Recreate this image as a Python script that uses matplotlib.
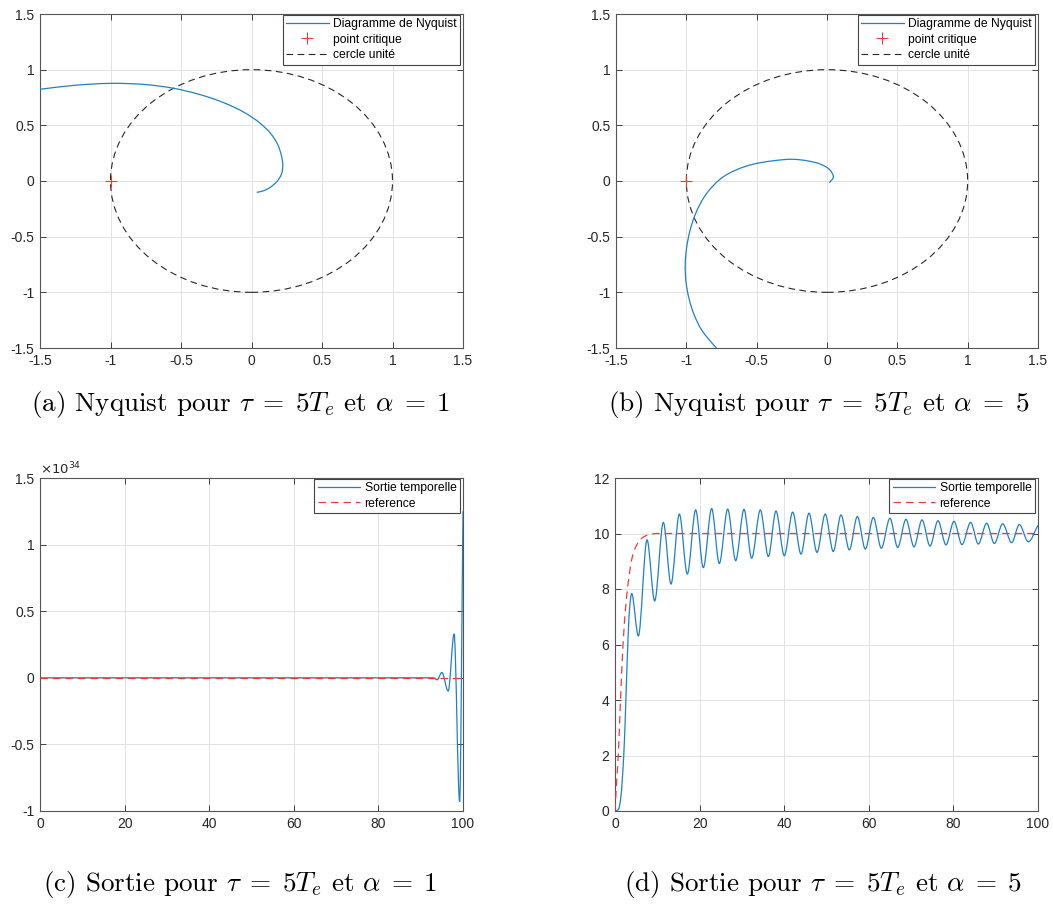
import numpy as np
import matplotlib
matplotlib.use("Agg")
import matplotlib.pyplot as plt
from matplotlib.path import Path
from matplotlib.patches import PathPatch, Circle
from matplotlib.lines import Line2D
from matplotlib.ticker import FuncFormatter, MultipleLocator

plt.rcParams['font.family'] = ['Liberation Sans', 'DejaVu Sans']
plt.rcParams['axes.unicode_minus'] = False

# --- data ------------------------------------------------------------------
# (a) Nyquist, alpha = 1
nyq_a_re = [-1.5, -1.25, -1.0, -0.75, -0.554, -0.365, -0.2, -0.05, 0.06,
            0.14, 0.185, 0.212, 0.222, 0.212, 0.18, 0.135, 0.085, 0.037]
nyq_a_im = [0.824, 0.860, 0.877, 0.866, 0.833, 0.776, 0.705, 0.615, 0.52,
            0.42, 0.33, 0.23, 0.14, 0.06, -0.005, -0.055, -0.088, -0.102]

# (b) Nyquist, alpha = 5
nyq_b_re = [0.017, 0.045, 0.021, -0.05, -0.144, -0.239, -0.381, -0.57, -0.736,
            -0.855, -0.938, -0.975, -0.998, -1.008, -1.003, -0.982, -0.945,
            -0.89, -0.835, -0.784]
nyq_b_im = [-0.015, 0.033, 0.099, 0.153, 0.182, 0.195, 0.182, 0.135, 0.039,
            -0.111, -0.305, -0.45, -0.6, -0.75, -0.9, -1.05, -1.2,
            -1.34, -1.43, -1.503]

point_critique = (-1.0, 0.0)
cercle_rayon = 1.0

# (c) time output, alpha = 1 (units of 1e34)
t_c = [0, 93.0, 93.9, 95.0, 96.5, 97.9, 99.2, 100]
y_c = [0, 0, -0.015, 0.04, -0.1, 0.33, -0.93, 1.25]
t_ref_c = [0, 100]
y_ref_c = [0, 0]

# (d) time output, alpha = 5
t_d = [0, 0.8, 1.3, 1.8, 2.3, 2.7, 3.1, 3.5, 3.94,
       5.52, 7.57, 9.38, 11.43, 13.24, 15.21, 17.10, 19.07, 20.88, 22.85,
       24.66, 26.64, 28.53, 30.5, 32.31, 34.36, 36.25, 38.06, 40.03, 42.0,
       43.97, 45.86, 47.75, 49.7,
       51.6, 53.43, 55.4, 57.29, 59.18, 61.07, 62.96, 65.0, 66.83, 68.79,
       70.69, 72.58, 74.47, 76.36, 78.25, 80.14, 82.03, 84.08, 85.89, 87.86,
       89.68, 91.65, 93.78, 95.59, 97.71, 100]
y_d = [0, 0.05, 0.4, 1.3, 2.8, 4.6, 6.3, 7.4, 7.84,
       6.31, 9.77, 7.57, 10.40, 8.18, 10.70, 8.54, 10.85, 8.77, 10.90,
       8.92, 10.88, 9.02, 10.87, 9.11, 10.85, 9.17, 10.81, 9.20, 10.77,
       9.26, 10.73, 9.32, 10.70,
       9.35, 10.67, 9.41, 10.61, 9.44, 10.58, 9.47, 10.55, 9.50, 10.51,
       9.52, 10.49, 9.55, 10.46, 9.59, 10.44, 9.60, 10.40, 9.62, 10.37,
       9.64, 10.35, 9.67, 10.32, 9.70, 10.30]
t_ref_d = [0, 0.4, 0.8, 1.3, 1.9, 2.6, 3.1, 4.0, 5.0, 6.5, 8.0, 10.0, 100]
y_ref_d = [0, 1.1, 2.1, 4.0, 6.0, 7.5, 8.2, 9.1, 9.55, 9.85, 9.96, 10.0, 10.0]

captions = [r"(a) Nyquist pour $\tau\;=\;5T_e$ et $\alpha\;=\;1$",
            r"(b) Nyquist pour $\tau\;=\;5T_e$ et $\alpha\;=\;5$",
            r"(c) Sortie pour $\tau\;=\;5T_e$ et $\alpha\;=\;1$",
            r"(d) Sortie pour $\tau\;=\;5T_e$ et $\alpha\;=\;5$"]

BLUE = '#1f80c6'
RED = '#f03a3a'
GREY = '#262626'


def pchip_slopes(s, v):
    h = np.diff(s)
    d = np.diff(v) / h
    m = np.zeros(len(v))
    m[0], m[-1] = d[0], d[-1]
    for k in range(1, len(v) - 1):
        if d[k - 1] * d[k] <= 0:
            m[k] = 0.0
        else:
            w1, w2 = 2 * h[k] + h[k - 1], h[k] + 2 * h[k - 1]
            m[k] = (w1 + w2) / (w1 / d[k - 1] + w2 / d[k])
    return m


def smooth_path(x, y, timeseries=False):
    # bezier path running through the read points (no new data points)
    x, y = np.asarray(x, float), np.asarray(y, float)
    if timeseries:
        s = x
        mx, my = np.ones(len(x)), pchip_slopes(s, y)
    else:
        s = np.concatenate([[0], np.cumsum(np.hypot(np.diff(x), np.diff(y)))])
        mx, my = np.gradient(x, s), np.gradient(y, s)
    verts, codes = [(x[0], y[0])], [Path.MOVETO]
    for k in range(len(x) - 1):
        h = (s[k + 1] - s[k]) / 3
        verts += [(x[k] + h * mx[k], y[k] + h * my[k]),
                  (x[k + 1] - h * mx[k + 1], y[k + 1] - h * my[k + 1]),
                  (x[k + 1], y[k + 1])]
        codes += [Path.CURVE4] * 3
    return Path(verts, codes)


def add_curve(ax, x, y, timeseries=False, **kw):
    ax.add_patch(PathPatch(smooth_path(x, y, timeseries), fill=False, **kw))


def style_axes(ax, xlim, ylim, xstep, ystep):
    ax.set_xlim(*xlim)
    ax.set_ylim(*ylim)
    ax.xaxis.set_major_locator(MultipleLocator(xstep))
    ax.yaxis.set_major_locator(MultipleLocator(ystep))
    fmt = FuncFormatter(lambda v, p: f"{v:g}")
    ax.xaxis.set_major_formatter(fmt)
    ax.yaxis.set_major_formatter(fmt)
    ax.set_axisbelow(True)
    ax.grid(True, color='#e2e2e2', lw=0.7)
    ax.tick_params(direction='in', length=4, width=0.6, top=True, right=True,
                   labelsize=10, colors=GREY, pad=4)
    for sp in ax.spines.values():
        sp.set_color('#555555')
        sp.set_linewidth(0.8)


def legend(ax, handles):
    leg = ax.legend(handles=handles, loc='upper right',
                    bbox_to_anchor=(0.993, 0.998),
                    borderaxespad=0, fancybox=False, framealpha=1,
                    edgecolor='#444444', fontsize=8.7, handlelength=3.5,
                    handletextpad=0.35, borderpad=0.3, labelspacing=0.28)
    leg.get_frame().set_linewidth(0.8)


fig = plt.figure(figsize=(10.53, 9.07), dpi=100)
W, H = 1053, 907
boxes = [(40, 14, 463, 348), (616, 14, 1038, 348),
         (40, 478, 463, 811), (615, 478, 1038, 811)]
axs = [fig.add_axes([l / W, 1 - b / H, (r - l) / W, (b - t) / H])
       for l, t, r, b in boxes]

nyq_handles = [Line2D([], [], color=BLUE, lw=0.9, label='Diagramme de Nyquist'),
               Line2D([], [], color=RED, marker='+', ls='none', ms=8,
                      mew=0.8, label='point critique'),
               Line2D([], [], color=GREY, ls=(0, (6, 4)), lw=0.8,
                      label='cercle unité')]

for ax, re, im in [(axs[0], nyq_a_re, nyq_a_im), (axs[1], nyq_b_re, nyq_b_im)]:
    style_axes(ax, (-1.5, 1.5), (-1.5, 1.5), 0.5, 0.5)
    add_curve(ax, re, im, color=BLUE, lw=0.9, zorder=3)
    ax.plot(*point_critique, '+', color=RED, ms=8, mew=0.8, zorder=4)
    ax.add_patch(Circle((0, 0), cercle_rayon, fill=False, ls=(0, (6, 4)),
                     color=GREY, lw=0.8, zorder=2))
    legend(ax, nyq_handles)

time_handles = [Line2D([], [], color=BLUE, lw=0.9, label='Sortie temporelle'),
                Line2D([], [], color=RED, ls=(0, (6, 4)), lw=0.9,
                       label='reference')]

ax = axs[2]
style_axes(ax, (0, 100), (-1, 1.5), 20, 0.5)
add_curve(ax, t_c, y_c, timeseries=True, color=BLUE, lw=0.9, zorder=3)
ax.plot(t_ref_c, y_ref_c, color=RED, ls=(0, (6, 4)), lw=0.9, zorder=4)
ax.text(0, 1.003, r'$\times10^{34}$', transform=ax.transAxes, fontsize=9.5,
        color=GREY, ha='left', va='bottom')
legend(ax, time_handles)

ax = axs[3]
style_axes(ax, (0, 100), (0, 12), 20, 2)
add_curve(ax, t_d, y_d, timeseries=True, color=BLUE, lw=0.9, zorder=3)
add_curve(ax, t_ref_d, y_ref_d, timeseries=True, color=RED,
          ls=(0, (6, 4)), lw=0.9, zorder=4)
legend(ax, time_handles)

cap_pos = [(240, 405), (819, 405), (240, 885), (823, 885)]
for (cx, cy), txt in zip(cap_pos, captions):
    fig.text(cx / W, 1 - cy / H, txt, ha='center', va='center',
             family='cmr10', math_fontfamily='cm', fontsize=19.5, color='black')

fig.savefig('out.png', dpi=100)
